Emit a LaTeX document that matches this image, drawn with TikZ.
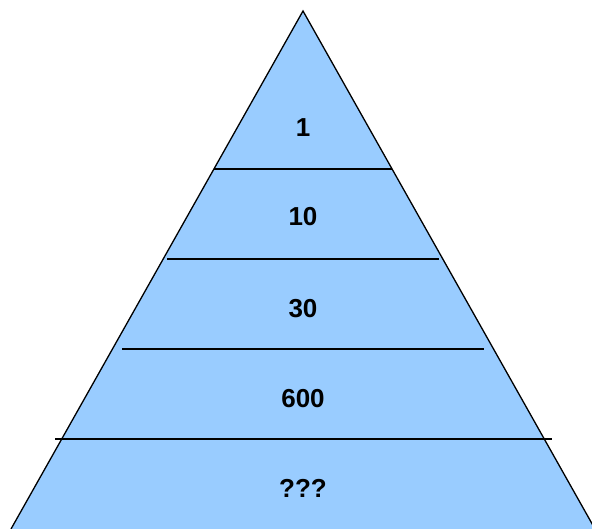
\documentclass[tikz,border=0pt]{standalone}
\usepackage{fontspec}
\setmainfont{Liberation Sans}
\definecolor{pyrblue}{HTML}{99CCFF}
\begin{document}
\begin{tikzpicture}[x=1pt,y=-1pt,
  lbl/.style={font=\fontsize{26}{30}\selectfont\bfseries, inner sep=0pt, anchor=center},
  sep/.style={line width=1.3pt, black}]
\useasboundingbox (0,0) rectangle (592,529);
\clip (0,0) rectangle (592,529);
\coordinate (apex) at (303,11);
\coordinate (bl) at (11,529);
\coordinate (br) at (595,529);
\fill[pyrblue] (apex) -- (br) -- (bl) -- cycle;
\draw[sep, line join=miter] (bl) -- (apex) -- (br);
\draw[sep] (214,169) -- (392,169);
\draw[sep] (167,259) -- (439,259);
\draw[sep] (122,349) -- (484,349);
\draw[sep] (55,439) -- (552,439);
\node[lbl] (t1) at (303,128) {1};
\node[lbl] (t2) at (303,217) {10};
\node[lbl] (t3) at (303,309) {30};
\node[lbl] (t4) at (303,399) {600};
\node[lbl] (t5) at (303,488) {???};
\end{tikzpicture}
\end{document}
